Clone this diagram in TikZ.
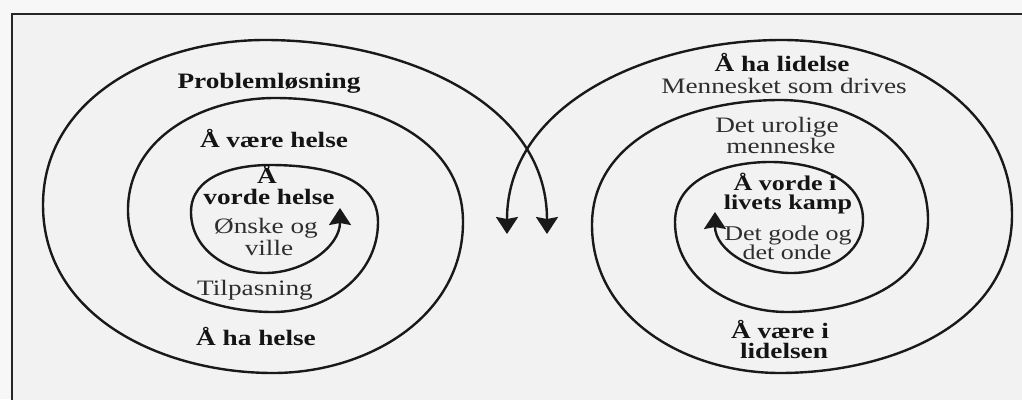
\documentclass[tikz,border=0pt]{standalone}
\usepackage{fontspec}
\setmainfont{Liberation Serif}[FakeStretch=1.24]
\usetikzlibrary{arrows.meta}
\begin{document}
\begin{tikzpicture}[x=1pt,y=-1pt,
  spiralline/.style={line width=2.4pt, draw=black!90, {Stealth[length=17pt,width=22pt,inset=2pt]}-{Stealth[length=17pt,width=22pt,inset=2pt]}},
  bt/.style={font=\fontsize{22}{22}\selectfont\bfseries, anchor=base, inner sep=0pt, text=black!92},
  rt/.style={font=\fontsize{22}{22}\selectfont, anchor=base, inner sep=0pt, text=black!82},
  bts/.style={bt, font=\fontsize{21}{21}\selectfont\bfseries},
  rts/.style={rt, font=\fontsize{21}{21}\selectfont}]
\fill[white!97!black] (0,0) rectangle (1022,399);
\useasboundingbox (0,0) rectangle (1022,399);
\clip (0,0) rectangle (1022,399);
\draw[line width=2pt, draw=black!85, fill=black!5] (12,14) rectangle (1040,420);

% left spiral
\coordinate (Lin) at (340,208);
\coordinate (Lout) at (547,234);
\draw[spiralline] (Lin)
  to[out=-90,in=0] (265,273)
  to[out=180,in=-90] (191,212)
  to[out=90,in=180] (270,165)
  to[out=0,in=90] (378,222)
  to[out=-90,in=0] (273,312)
  to[out=180,in=-90] (128,210)
  to[out=90,in=180] (275,98)
  to[out=0,in=90] (463,222)
  to[out=-90,in=0] (273,373)
  to[out=180,in=-90] (43,205)
  to[out=90,in=180] (265,40)
  to[out=0,in=90] (Lout);

% right spiral
\coordinate (Rin) at (715,212);
\coordinate (Rout) at (507,234);
\draw[spiralline] (Rin)
  to[out=-90,in=180] (791,273)
  to[out=0,in=-90] (863,220)
  to[out=90,in=0] (770,162)
  to[out=180,in=90] (675,222)
  to[out=-90,in=180] (787,312)
  to[out=0,in=-90] (928,220)
  to[out=90,in=0] (780,100)
  to[out=180,in=90] (592,225)
  to[out=-90,in=180] (780,373)
  to[out=0,in=-90] (1012,215)
  to[out=90,in=0] (782,40)
  to[out=180,in=90] (Rout);

% left texts
\node[bt] (p1) at (269,88) {Problemløsning};
\node[bt] (p2) at (274,147) {Å være helse};
\node[bt] (p3) at (267,183) {Å};
\node[bt] (p4) at (269,204) {vorde helse};
\node[rt] (p5) at (266,233) {Ønske og};
\node[rt] (p6) at (269,255) {ville};
\node[rt] (p7) at (255,295) {Tilpasning};
\node[bt] (p8) at (256,345) {Å ha helse};

% right texts
\node[bt] (q1) at (782,71) {Å ha lidelse};
\node[rt] (q2) at (784,93) {Mennesket som drives};
\node[rt] (q3) at (777,132) {Det urolige};
\node[rt] (q4) at (781,153) {menneske};
\node[bts] (q5) at (785,190) {Å vorde i};
\node[bts] (q6) at (788,209) {livets kamp};
\node[rts] (q7) at (788,240) {Det gode og};
\node[rts] (q8) at (787,259) {det onde};
\node[bt] (q9) at (780,338) {Å være i};
\node[bt] (q10) at (784,358) {lidelsen};
\end{tikzpicture}
\end{document}
